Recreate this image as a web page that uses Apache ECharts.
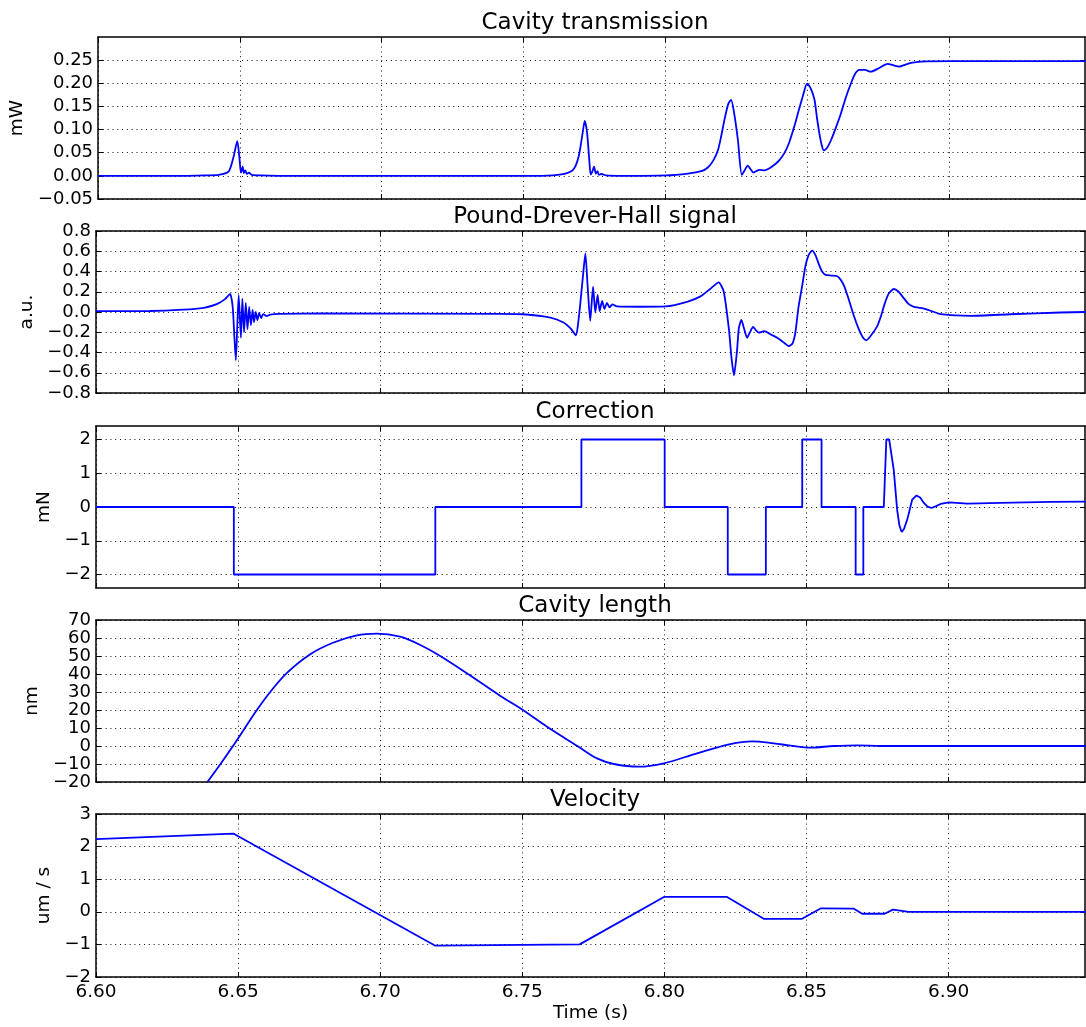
<!DOCTYPE html>
<html>
<head>
<meta charset="utf-8">
<script src="https://cdn.jsdelivr.net/npm/echarts@6/dist/echarts.min.js"></script>
<style>html,body{margin:0;padding:0;background:#fff}#c{width:1086px;height:1027px}</style>
</head>
<body>
<div id="c"></div>
<script>
// ---------- data ----------
const xTicks = [6.60, 6.65, 6.70, 6.75, 6.80, 6.85, 6.90];
const xMin = 6.60, xMax = 6.948;
const panelTitles = ['Cavity transmission', 'Pound-Drever-Hall signal', 'Correction', 'Cavity length', 'Velocity'];
const yUnits = ['mW', 'a.u.', 'mN', 'nm', 'um / s'];
const yMins = [-0.05, -0.8, -2.4, -20, -2];
const yMaxs = [0.30, 0.8, 2.4, 70, 3];
const yTicks1 = [-0.05, 0.00, 0.05, 0.10, 0.15, 0.20, 0.25];
const yTicks2 = [-0.8, -0.6, -0.4, -0.2, 0.0, 0.2, 0.4, 0.6, 0.8];
const yTicks3 = [-2, -1, 0, 1, 2];
const yTicks4 = [-20, -10, 0, 10, 20, 30, 40, 50, 60, 70];
const yTicks5 = [-2, -1, 0, 1, 2, 3];
const yDigits = [2, 1, 0, 0, 0];

const transT = [6.600, 6.630, 6.638, 6.6425, 6.6460, 6.6478, 6.6491, 6.6498, 6.6504, 6.6510, 6.6514, 6.6519, 6.6525, 6.6532, 6.6542, 6.6577, 6.6648,
  6.7563, 6.7634, 6.7675, 6.7694, 6.7708, 6.7716, 6.7724, 6.7732, 6.7737, 6.7742, 6.7749, 6.7755, 6.7761, 6.7766, 6.7775, 6.7792, 6.7845,
  6.8004, 6.8080, 6.8127, 6.8150, 6.8169, 6.8186, 6.8197, 6.8209, 6.8222, 6.8232, 6.8243, 6.8256, 6.8270, 6.8280, 6.8291, 6.8301, 6.8311,
  6.8320, 6.8332, 6.8350, 6.8366, 6.8385, 6.8401, 6.8420, 6.8437, 6.8455, 6.8470, 6.8485, 6.8500, 6.8512, 6.8526, 6.8535, 6.8543, 6.8551,
  6.8559, 6.8570, 6.8585, 6.8602, 6.8620, 6.8637, 6.8655, 6.8669, 6.8684, 6.8704, 6.8725, 6.8754, 6.8784, 6.8803, 6.8825, 6.8845, 6.8866,
  6.8901, 6.9007, 6.9482];
const transV = [0.000, 0.000, 0.001, 0.002, 0.009, 0.042, 0.075, 0.042, 0.007, 0.020, 0.006, 0.012, 0.004, 0.007, 0.002, 0.001, 0.000,
  0.000, 0.003, 0.013, 0.040, 0.090, 0.119, 0.095, 0.035, 0.003, 0.008, 0.020, 0.005, 0.010, 0.002, 0.004, 0.001, 0.000,
  0.001, 0.005, 0.010, 0.018, 0.033, 0.056, 0.085, 0.122, 0.155, 0.164, 0.135, 0.078, 0.002, 0.012, 0.022, 0.014, 0.007,
  0.010, 0.013, 0.012, 0.016, 0.024, 0.033, 0.049, 0.072, 0.107, 0.140, 0.172, 0.199, 0.190, 0.165, 0.125, 0.093, 0.068,
  0.055, 0.060, 0.078, 0.105, 0.136, 0.170, 0.200, 0.220, 0.229, 0.229, 0.225, 0.233, 0.242, 0.239, 0.236, 0.240, 0.244,
  0.247, 0.248, 0.248];

const pdhT = [6.600, 6.6190, 6.6366, 6.6425, 6.6454, 6.6472, 6.6481, 6.6487, 6.6492, 6.6497, 6.6502, 6.6510, 6.6515, 6.6521, 6.6527, 6.6533,
  6.6539, 6.6545, 6.6551, 6.6556, 6.6562, 6.6568, 6.6574, 6.6581, 6.6588, 6.6601, 6.6613, 6.6648, 6.6789, 6.7423, 6.7503, 6.7599, 6.7645,
  6.7669, 6.7689, 6.7697, 6.7704, 6.7715, 6.7722, 6.7730, 6.7739, 6.7749, 6.7757, 6.7765, 6.7772, 6.7781, 6.7789, 6.7798, 6.7807, 6.7817,
  6.7833, 6.7915, 6.8004, 6.8080, 6.8127, 6.8162, 6.8191, 6.8209, 6.8227, 6.8236, 6.8245, 6.8255, 6.8262, 6.8271, 6.8280, 6.8291, 6.8301,
  6.8312, 6.8322, 6.8332, 6.8352, 6.8373, 6.8397, 6.8419, 6.8438, 6.8451, 6.8461, 6.8472, 6.8485, 6.8496, 6.8507, 6.8520, 6.8532, 6.8543,
  6.8555, 6.8567, 6.8588, 6.8608, 6.8620, 6.8632, 6.8648, 6.8667, 6.8684, 6.8698, 6.8710, 6.8725, 6.8749, 6.8761, 6.8775, 6.8789, 6.8807,
  6.8824, 6.8843, 6.8859, 6.8878, 6.8901, 6.8919, 6.8944, 6.8972, 6.9025, 6.9077, 6.9218, 6.9394, 6.9482];
const pdhV = [0.008, 0.010, 0.035, 0.078, 0.127, 0.180, 0.05, -0.25, -0.476, -0.15, 0.167, -0.254, 0.13, -0.20, 0.09, -0.17,
  0.05, -0.13, 0.02, -0.10, 0.00, -0.08, -0.01, -0.06, -0.02, -0.04, -0.025, -0.018, -0.015, -0.018, -0.022, -0.055, -0.104,
  -0.16, -0.23, -0.10, 0.08, 0.40, 0.58, 0.25, -0.088, 0.25, -0.005, 0.17, 0.01, 0.11, 0.03, 0.09, 0.045, 0.075,
  0.055, 0.052, 0.055, 0.10, 0.154, 0.23, 0.293, 0.20, -0.17, -0.45, -0.625, -0.40, -0.16, -0.078, -0.16, -0.254, -0.20,
  -0.148, -0.18, -0.204, -0.188, -0.22, -0.254, -0.30, -0.337, -0.31, -0.20, 0.05, 0.26, 0.45, 0.56, 0.607, 0.56, 0.475,
  0.40, 0.366, 0.36, 0.353, 0.32, 0.26, 0.13, -0.04, -0.17, -0.25, -0.28, -0.24, -0.14, -0.05, 0.08, 0.18, 0.227,
  0.20, 0.134, 0.08, 0.051, 0.040, 0.028, 0.005, -0.022, -0.034, -0.038, -0.022, -0.005, 0.000];

const corrT = [6.600, 6.6485, 6.6485, 6.7194, 6.7194, 6.7708, 6.7708, 6.8001, 6.8001, 6.8223, 6.8223, 6.8357, 6.8357, 6.8485, 6.8485,
  6.8553, 6.8553, 6.8673, 6.8673, 6.8700, 6.8700, 6.8772, 6.8781, 6.8791, 6.8807, 6.8819, 6.8827, 6.8835, 6.8843, 6.8855, 6.8872, 6.8887,
  6.8900, 6.8913, 6.8926, 6.8940, 6.8954, 6.8972, 6.9001, 6.9066, 6.9183, 6.9359, 6.9482];
const corrV = [0, 0, -2, -2, 0, 0, 2, 2, 0, 0, -2, -2, 0, 0, 2,
  2, 0, 0, -2, -2, 0, 0, 2, 2, 1.1, -0.08, -0.55, -0.74, -0.65, -0.36, 0.22, 0.34,
  0.28, 0.12, 0.01, -0.03, 0.02, 0.09, 0.136, 0.10, 0.12, 0.15, 0.16];

const lenT = [6.6392, 6.6438, 6.6482, 6.6524, 6.6566, 6.6613, 6.6671, 6.6754, 6.6836, 6.6918, 6.6988, 6.7070, 6.7141, 6.7211, 6.7305,
  6.7423, 6.7502, 6.7587, 6.7698, 6.7763, 6.7822, 6.7910, 6.7998, 6.8115, 6.8232, 6.8309, 6.8385, 6.8444, 6.8514, 6.8596,
  6.8678, 6.8761, 6.9482];
const lenV = [-20, -10, 0, 10, 20, 30, 40.5, 51, 57.5, 61.5, 62.4, 60.7, 56.1, 50, 40.4,
  27.8, 20, 10.7, -0.4, -6.9, -10, -11.5, -9.6, -4.1, 1.1, 2.6, 1.5, 0.2, -0.9, 0,
  0.4, 0, 0];

const velT = [6.6000, 6.6483, 6.7194, 6.7702, 6.8000, 6.8219, 6.8351, 6.8483, 6.8551, 6.8667, 6.8696, 6.8775, 6.8804, 6.8860, 6.9482];
const velV = [2.23, 2.40, -1.04, -1.00, 0.46, 0.46, -0.22, -0.22, 0.107, 0.095, -0.06, -0.06, 0.065, 0.00, 0.00];

// ---------- layout ----------
const seriesT = [transT, pdhT, corrT, lenT, velT];
const seriesV = [transV, pdhV, corrV, lenV, velV];
const yTickSets = [yTicks1, yTicks2, yTicks3, yTicks4, yTicks5];
const smoothness = [0.25, 0.2, false, 0.35, false];
const gridTops = [37, 231, 426, 620, 814];
const gridH = [162, 162, 162, 162, 163];
const nameGaps = [69, 57, 39, 51, 39];
const FONT = 'DejaVu Sans';

const fmt = (v, d) => v.toFixed(d).replace('-', '\u2212');

const grids = [], xAxes = [], yAxes = [], series = [], titles = [];
for (let i = 0; i < 5; i++) {
  grids.push({ left: 96, right: 1, top: gridTops[i], height: gridH[i], containLabel: false });
  titles.push({
    text: panelTitles[i], left: 590, top: gridTops[i] - 30, textAlign: 'center',
    textStyle: { fontFamily: FONT, fontSize: 23, fontWeight: 'normal', color: '#000' }
  });
  const tickStyle = { show: true, inside: true, length: 5, lineStyle: { color: '#000', width: 1 } };
  const lineStyle = { show: true, onZero: false, lineStyle: { color: '#000', width: 1.5 } };
  const split = { show: true, lineStyle: { color: '#111', width: 1, type: [1, 3.8] } };
  const last = i === 4;
  xAxes.push({
    type: 'value', gridIndex: i, min: xMin, max: xMax, position: 'bottom',
    axisLine: lineStyle,
    axisTick: Object.assign({ customValues: xTicks }, tickStyle),
    axisLabel: {
      show: last, customValues: xTicks, margin: 6, formatter: v => fmt(v, 2),
      fontFamily: FONT, fontSize: 18.5, color: '#000', showMinLabel: true, showMaxLabel: true
    },
    splitLine: split,
    name: last ? 'Time (s)' : '', nameLocation: 'middle', nameGap: 27,
    nameTextStyle: { fontFamily: FONT, fontSize: 18.5, color: '#000' }
  });
  xAxes.push({
    type: 'value', gridIndex: i, min: xMin, max: xMax, position: 'top',
    axisLine: lineStyle,
    axisTick: Object.assign({ customValues: xTicks }, tickStyle),
    axisLabel: { show: false }, splitLine: { show: false }
  });
  const d = yDigits[i];
  yAxes.push({
    type: 'value', gridIndex: i, min: yMins[i], max: yMaxs[i], position: 'left',
    axisLine: lineStyle,
    axisTick: Object.assign({ customValues: yTickSets[i] }, tickStyle),
    axisLabel: {
      customValues: yTickSets[i], margin: 5, formatter: v => fmt(v, d),
      fontFamily: FONT, fontSize: 18, lineHeight: 16, color: '#000',
      showMinLabel: true, showMaxLabel: true, hideOverlap: false
    },
    splitLine: split,
    name: yUnits[i], nameLocation: 'middle', nameGap: nameGaps[i], nameRotate: 90,
    nameTextStyle: { fontFamily: FONT, fontSize: 18.5, color: '#000' }
  });
  yAxes.push({
    type: 'value', gridIndex: i, min: yMins[i], max: yMaxs[i], position: 'right',
    axisLine: lineStyle,
    axisTick: Object.assign({ customValues: yTickSets[i] }, tickStyle),
    axisLabel: { show: false }, splitLine: { show: false }
  });
  const pts = seriesT[i].map((t, k) => [t, seriesV[i][k]]);
  series.push({
    type: 'line', xAxisIndex: 2 * i, yAxisIndex: 2 * i, data: pts,
    showSymbol: false, symbol: 'none', smooth: smoothness[i], clip: true,
    lineStyle: { color: '#0000ff', width: 1.8 }, z: 5
  });
}

const chart = echarts.init(document.getElementById('c'), null, { renderer: 'canvas' });
chart.setOption({
  animation: false, backgroundColor: '#fff',
  title: titles, grid: grids, xAxis: xAxes, yAxis: yAxes, series: series
});
</script>
</body>
</html>
